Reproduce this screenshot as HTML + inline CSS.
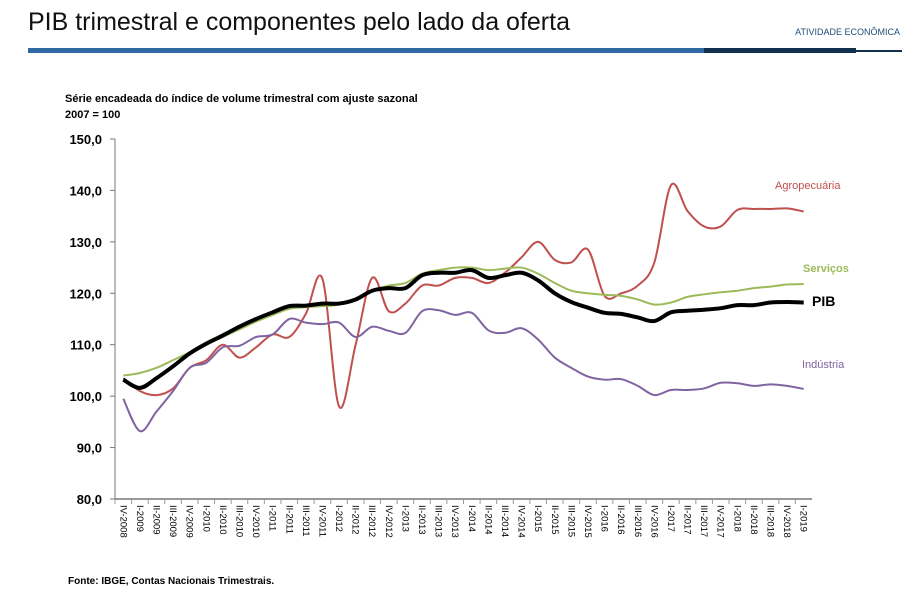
<!DOCTYPE html>
<html><head><meta charset="utf-8"><style>
body{margin:0;width:904px;height:601px;background:#fff;overflow:hidden;font-family:"Liberation Sans",sans-serif}
</style></head><body>
<svg width="904" height="601" xmlns="http://www.w3.org/2000/svg">
<text x="28" y="30" font-size="25" fill="#111">PIB trimestral e componentes pelo lado da oferta</text>
<text x="900" y="35" font-size="9" fill="#1f4e79" text-anchor="end">ATIVIDADE ECONÔMICA</text>
<rect x="28" y="48" width="676" height="5" fill="#2e6aa3"/>
<rect x="704" y="48" width="152" height="5" fill="#14304f"/>
<rect x="856" y="50" width="46" height="2" fill="#14304f"/>
<text x="65" y="102" font-size="11" font-weight="bold" fill="#000">Série encadeada do índice de volume trimestral com ajuste sazonal</text>
<text x="65" y="118" font-size="11" font-weight="bold" fill="#000">2007 = 100</text>
<text x="68" y="584" font-size="10" font-weight="bold" fill="#000">Fonte: IBGE, Contas Nacionais Trimestrais.</text>
<g id="axes"></g><g id="series"></g>
</svg>
<script>
const categories=["IV-2008","I-2009","II-2009","III-2009","IV-2009","I-2010","II-2010","III-2010","IV-2010","I-2011","II-2011","III-2011","IV-2011","I-2012","II-2012","III-2012","IV-2012","I-2013","II-2013","III-2013","IV-2013","I-2014","II-2014","III-2014","IV-2014","I-2015","II-2015","III-2015","IV-2015","I-2016","II-2016","III-2016","IV-2016","I-2017","II-2017","III-2017","IV-2017","I-2018","II-2018","III-2018","IV-2018","I-2019"];
const agro=[103.5,101,100.2,101.5,105.5,107,110,107.5,109.5,112,111.5,116,122.8,98,110,123,116.5,118,121.5,121.5,123,123,122,124,127,130,126.5,126,128.5,119.5,120,121.5,126,141,136,133,133,136.2,136.4,136.4,136.5,135.9];
const servicos=[104,104.5,105.5,107,108.5,110,111.5,113,114.5,115.8,117,117.3,117.5,117.8,119,120.5,121.5,122,123.8,124.5,125,125,124.5,124.8,125,123.8,122,120.5,120,119.7,119.5,118.8,117.8,118.2,119.3,119.8,120.2,120.5,121,121.3,121.7,121.8];
const pib=[103.2,101.6,103.5,105.8,108.3,110.2,111.8,113.5,115,116.3,117.5,117.6,118,118,118.8,120.5,121,121,123.5,124,124,124.5,123,123.5,124,122.5,120,118.3,117.2,116.2,116,115.3,114.6,116.3,116.6,116.8,117.1,117.7,117.7,118.2,118.3,118.2];
const industria=[99.5,93.2,97,101,105.5,106.5,109.5,109.8,111.5,112,115,114.3,114,114.3,111.5,113.5,112.7,112.3,116.5,116.7,115.8,116.2,112.8,112.3,113.2,111,107.5,105.5,103.8,103.2,103.3,102,100.2,101.2,101.2,101.5,102.6,102.5,102,102.3,102,101.4];
const yTicks=[80,90,100,110,120,130,140,150];
const yTickLabels=["80,0","90,0","100,0","110,0","120,0","130,0","140,0","150,0"];
const NS="http://www.w3.org/2000/svg";
const x0=115,x1=812,yb=499,yt=139;
const step=(x1-x0)/categories.length;
const xs=i=>x0+step*(i+0.5);
const ys=v=>yb-(v-80)/(150-80)*(yb-yt);
function mk(t,a,p){const e=document.createElementNS(NS,t);for(const k in a)e.setAttribute(k,a[k]);p.appendChild(e);return e;}
const ax=document.getElementById('axes');
let l=mk('line',{x1:x0,y1:yt,x2:x0,y2:yb,stroke:'#777','stroke-width':1},ax);


l=mk('line',{x1:x0,y1:yb,x2:x1,y2:yb,stroke:'#333','stroke-width':1},ax);


yTicks.forEach((v,i)=>{
 mk('line',{x1:x0-5,y1:ys(v),x2:x0,y2:ys(v),stroke:'#777'},ax);
 const t=mk('text',{x:102,y:ys(v)+5,'text-anchor':'end','font-size':13,'font-weight':'bold',fill:'#000'},ax);
 t.textContent=yTickLabels[i];
 
 
});
categories.forEach((c,i)=>{
 const xt=x0+step*i;
 mk('line',{x1:xt,y1:yb,x2:xt,y2:yb+5,stroke:'#999'},ax);
 const t=mk('text',{x:0,y:0,transform:`translate(${xs(i)-3},${yb+6}) rotate(90)`,'font-size':9.5,fill:'#000'},ax);
 t.textContent=c;
 
 
});
function path(vals){
 const p=vals.map((v,i)=>[xs(i),ys(v)]);
 let d=`M${p[0][0]},${p[0][1]}`;
 for(let i=0;i<p.length-1;i++){
  const a=p[Math.max(0,i-1)],b=p[i],c=p[i+1],e=p[Math.min(p.length-1,i+2)];
  d+=` C${b[0]+(c[0]-a[0])/6},${b[1]+(c[1]-a[1])/6} ${c[0]-(e[0]-b[0])/6},${c[1]-(e[1]-b[1])/6} ${c[0]},${c[1]}`;
 }
 return d;
}
const sg=document.getElementById('series');
const defs=[[agro,'#c0504d',2,'agropecuaria-line'],[servicos,'#9bbb59',2,'servicos-line'],[industria,'#8064a2',2,'industria-line'],[pib,'#000',4,'pib-line']];
defs.forEach(([v,c,w,n])=>{
 const p=mk('path',{d:path(v),fill:'none',stroke:c,'stroke-width':w},sg);
 
 
});
const labels=[["Agropecuária",775,189,'#c0504d',11,'normal'],["Serviços",803,272,'#9bbb59',11,'bold'],["PIB",812,306,'#000',14,'bold'],["Indústria",802,368,'#8064a2',11,'normal']];
labels.forEach(([t,x,y,c,s,w])=>{
 const e=mk('text',{x:x,y:y,fill:c,'font-size':s,'font-weight':w},sg);
 e.textContent=t;
 
 
});
</script>
</body></html>
